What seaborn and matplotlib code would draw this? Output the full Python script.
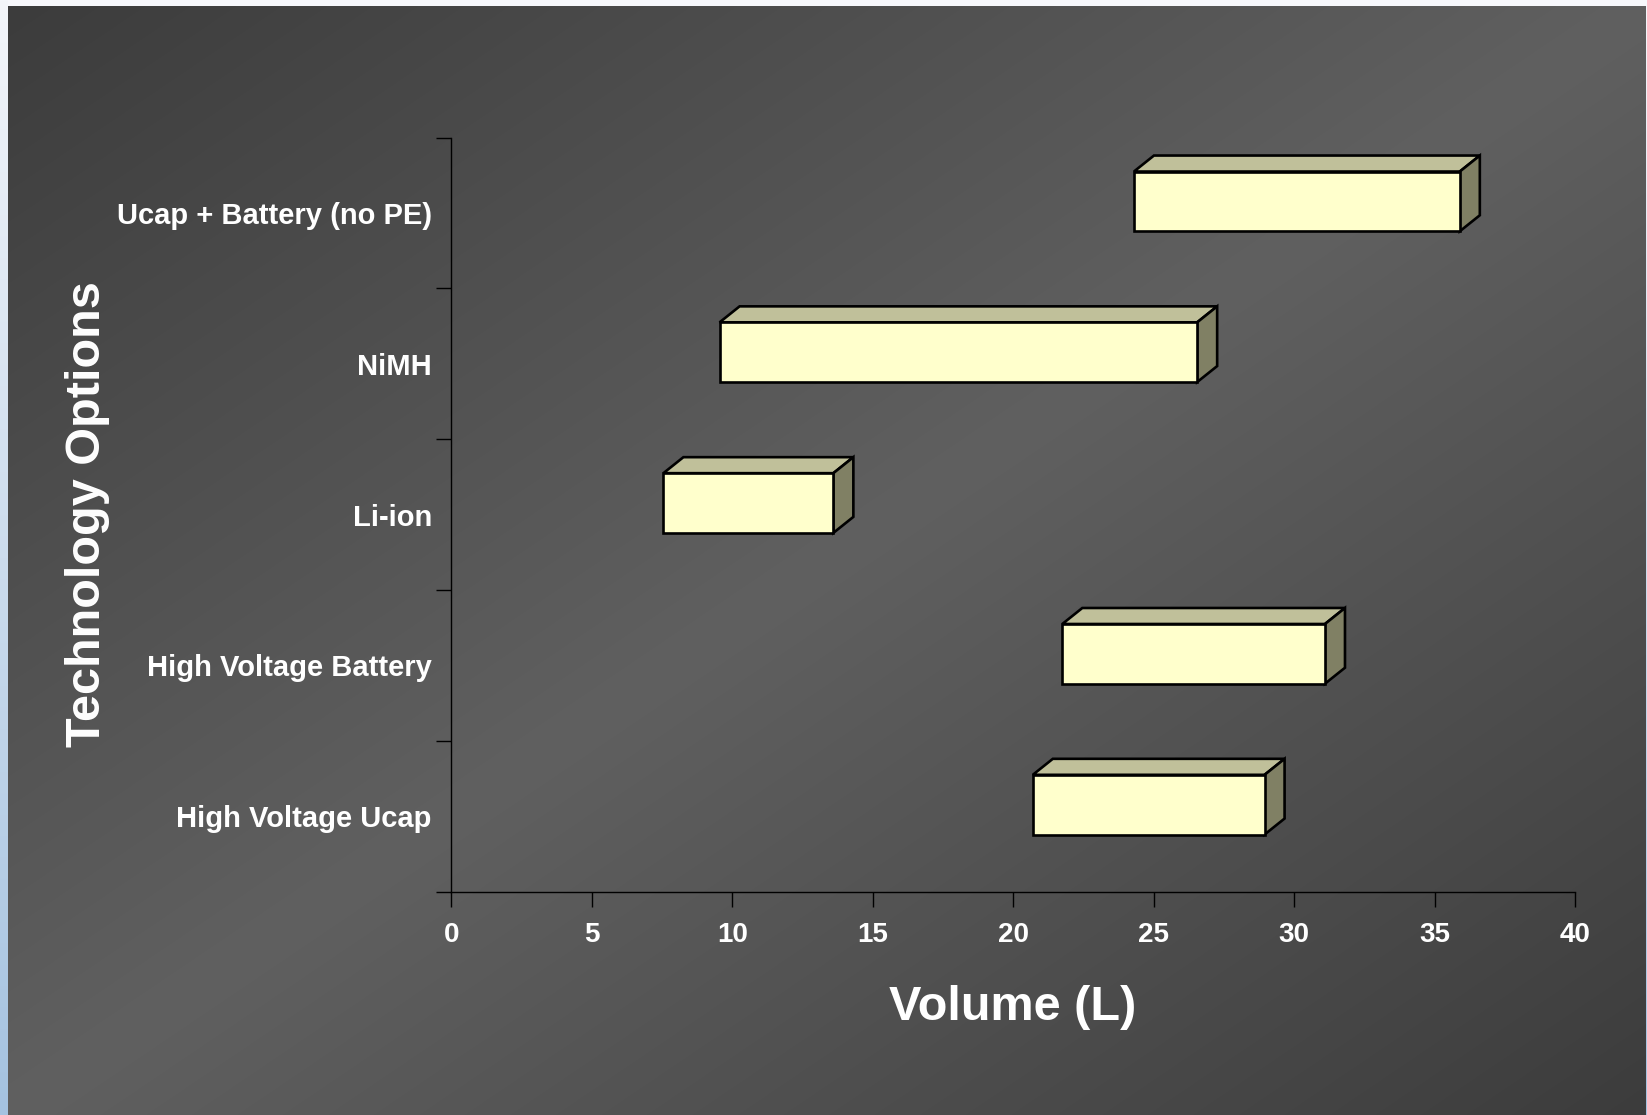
import numpy as np
import pandas as pd
import matplotlib
matplotlib.use("Agg")
import matplotlib.pyplot as plt
from matplotlib.patches import Polygon
import seaborn as sns

# Volume range (litres) for each energy-storage technology
technologies = [
    "Ucap + Battery (no PE)",
    "NiMH",
    "Li-ion",
    "High Voltage Battery",
    "High Voltage Ucap",
]
volume_low = [24.3, 9.55, 7.55, 21.75, 20.7]
volume_high = [35.9, 26.55, 13.6, 31.1, 28.95]
volume_ticks = [0, 5, 10, 15, 20, 25, 30, 35, 40]

sns.set_theme(style="ticks")
plt.rcParams["font.family"] = ["Liberation Sans", "DejaVu Sans"]
plt.rcParams["font.weight"] = "bold"

W, H = 1647, 1115
fig = plt.figure(figsize=(W / 100, H / 100), dpi=100)

# Slide background: diagonal grey gradient with a light frame
yy, xx = np.mgrid[0:H, 0:W]
u = (xx - 8) / (W - 8)
v = (yy - 6) / (H - 6)
t = (u + v) / 2
level = (0x60 - (0x60 - 0x3C) * np.abs(2 * t - 1)) / 255
img = np.dstack([level] * 3)
img[:6, :, :] = np.array([0xF7, 0xF8, 0xFC]) / 255
frac = (yy[:, :8] / (H - 1))[..., None]
top_c = np.array([0xF4, 0xF6, 0xFA]) / 255
bot_c = np.array([0xA4, 0xC2, 0xE0]) / 255
img[:, :8, :] = top_c * (1 - frac) + bot_c * frac
img[6:, -1:, :] = (top_c * (1 - frac) + bot_c * frac)[6:, :1, :]
fig.figimage(img, xo=0, yo=0, origin="upper", zorder=-10)

ax = fig.add_axes([451.3 / W, 1 - 891.7 / H, (1575 - 451.3) / W, (891.7 - 137.6) / H])
ax.set_zorder(5)
ax.patch.set_alpha(0)

df = pd.DataFrame({"technology": technologies, "low": volume_low, "high": volume_high})
sns.barplot(data=df, x="high", y="technology", order=technologies, orient="y",
            width=0.396, color="#FFFFCC", saturation=1, edgecolor="black",
            linewidth=1.9, ax=ax, zorder=3)

ax.set_xlim(0, 40)
ax.set_ylim(4.5, -0.5)

# Floating bars: each starts at the low end of its range
face_shift = 0.077          # front faces sit slightly above the category centre
depth_x = 20 / 28.09        # box depth in volume units
depth_y = 16 / 150.8        # box depth in category units
for patch, lo, hi in zip(list(ax.patches), volume_low, volume_high):
    patch.set_x(lo)
    patch.set_width(hi - lo)
    patch.set_y(patch.get_y() - face_shift)
    patch.set_joinstyle("miter")
    y_top = patch.get_y()
    y_bot = y_top + patch.get_height()
    top_face = Polygon([(lo, y_top), (hi, y_top), (hi + depth_x, y_top - depth_y),
                        (lo + depth_x, y_top - depth_y)], closed=True,
                       facecolor="#C0C09A", edgecolor="black", linewidth=1.9,
                       joinstyle="miter", zorder=2)
    side_face = Polygon([(hi, y_top), (hi + depth_x, y_top - depth_y),
                         (hi + depth_x, y_bot - depth_y), (hi, y_bot)], closed=True,
                        facecolor="#808064", edgecolor="black", linewidth=1.9,
                        joinstyle="miter", zorder=2)
    ax.add_patch(top_face)
    ax.add_patch(side_face)

ax.set_xticks(volume_ticks)
ax.set_xticklabels([str(v) for v in volume_ticks])
ax.set_yticks(np.arange(-0.5, 5, 1), minor=True)
ax.tick_params(axis="y", which="major", length=0, pad=14, labelsize=21,
               labelcolor="white")
ax.tick_params(axis="y", which="minor", length=10.8, width=1, color="black",
               direction="out")
ax.tick_params(axis="x", which="major", length=10.8, width=1, color="black",
               direction="out", pad=11, labelsize=20, labelcolor="white")
for lab in ax.get_xticklabels() + ax.get_yticklabels():
    lab.set_fontweight("bold")

for side in ["top", "right"]:
    ax.spines[side].set_visible(False)
for side in ["left", "bottom"]:
    ax.spines[side].set_color("black")
    ax.spines[side].set_linewidth(1)
ax.grid(False)
ax.set_xlabel("")
ax.set_ylabel("")

fig.text(1013 / W, 1 - 1007 / H, "Volume (L)", ha="center", va="center",
         fontsize=35, color="white", fontweight="bold")
fig.text(88 / W, 1 - 514 / H, "Technology Options", rotation=90, ha="center",
         va="center", fontsize=35, color="white", fontweight="bold")

fig.savefig("out.png", dpi=100)
